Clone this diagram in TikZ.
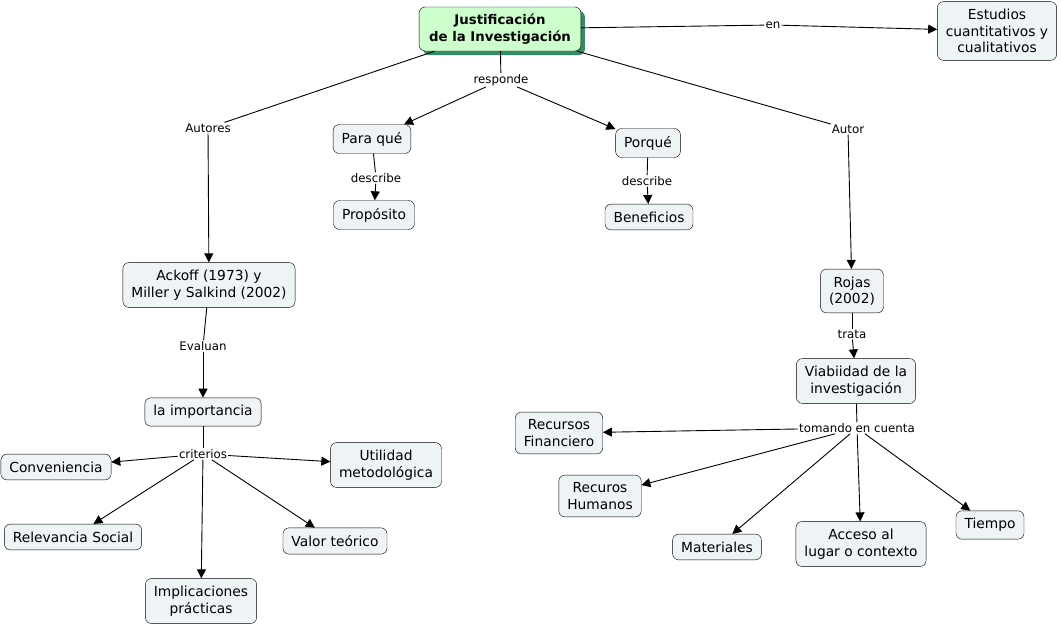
\documentclass[tikz,border=0pt]{standalone}
\usepackage{fontspec}
\setmainfont{DejaVu Sans}
\usetikzlibrary{arrows.meta,shadows}

\definecolor{cmapfill}{RGB}{238,243,245}
\definecolor{rootfill}{RGB}{204,255,204}
\definecolor{rootshadow}{RGB}{51,140,102}

\tikzset{
  concept/.style={draw, rounded corners=6pt, fill=cmapfill, align=center,
    inner xsep=8.5pt, inner ysep=7.5pt, font=\fontsize{13.8}{16.5}\selectfont},
  root/.style={concept, fill=rootfill, font=\bfseries\fontsize{13.3}{16.5}\selectfont,
    inner xsep=10pt, inner ysep=7pt,
    drop shadow={shadow xshift=4pt, shadow yshift=-4pt, fill=rootshadow, opacity=1}},
  linkword/.style={fill=white, inner sep=1pt, font=\fontsize{11.8}{14}\selectfont},
  link/.style={line width=0.9pt},
  arr/.style={link, -{Triangle[length=9pt,width=9pt]}}
}

\begin{document}
\begin{tikzpicture}[x=1pt,y=-1pt]

	%The frame
	\useasboundingbox (0,0) rectangle (1061,627);

	%Concepts
	\node[root] (just) at (500,29) {Justificación\\de la Investigación};
	\node[concept] (estud) at (997,31) {Estudios\\cuantitativos y\\cualitativos};
	\node[concept] (paraque) at (372,139) {Para qué};
	\node[concept] (porque) at (648,143) {Porqué};
	\node[concept] (proposito) at (374,215) {Propósito};
	\node[concept] (benef) at (649,217) {Beneficios};
	\node[concept] (ackoff) at (209,285) {Ackoff (1973) y\\Miller y Salkind (2002)};
	\node[concept] (import) at (203,412) {la importancia};
	\node[concept] (conven) at (56,467) {Conveniencia};
	\node[concept] (utilidad) at (386,465) {Utilidad\\metodológica};
	\node[concept] (relev) at (73,537) {Relevancia Social};
	\node[concept] (valor) at (335,541) {Valor teórico};
	\node[concept] (implic) at (201,601) {Implicaciones\\prácticas};
	\node[concept] (rojas) at (852,291) {Rojas\\(2002)};
	\node[concept] (viab) at (856,381) {Viabiidad de la\\investigación};
	\node[concept] (finan) at (559,433) {Recursos\\Financiero};
	\node[concept] (human) at (600,496) {Recuros\\Humanos};
	\node[concept] (mater) at (717,547) {Materiales};
	\node[concept] (acceso) at (861,544) {Acceso al\\lugar o contexto};
	\node[concept] (tiempo) at (990,525) {Tiempo};

	%Linking words
	\node[linkword] (en) at (773,25) {en};
	\node[linkword] (responde) at (501,80) {responde};
	\node[linkword] (desc1) at (376,178) {describe};
	\node[linkword] (desc2) at (647,181) {describe};
	\node[linkword] (autores) at (208,128) {Autores};
	\node[linkword] (autor) at (848,129) {Autor};
	\node[linkword] (evaluan) at (203,346) {Evaluan};
	\node[linkword] (criterios) at (203,454) {criterios};
	\node[linkword] (trata) at (852,334) {trata};
	\node[linkword] (tomando) at (857,428) {tomando en cuenta};

	%Top
	\draw[link] (just) -- (en);
	\draw[arr] (en) -- (estud);
	\draw[link] (just) -- (responde);
	\draw[arr] (responde) -- (paraque);
	\draw[arr] (responde) -- (porque);
	\draw[link] (paraque) -- (desc1);
	\draw[arr] (desc1) -- (proposito);
	\draw[link] (porque) -- (desc2);
	\draw[arr] (desc2) -- (benef);

	%Left branch
	\draw[link] (just) -- (autores);
	\draw[arr] (autores) -- (ackoff);
	\draw[link] (ackoff) -- (evaluan);
	\draw[arr] (evaluan) -- (import);
	\draw[link] (import) -- (criterios);
	\draw[arr] (criterios) -- (conven);
	\draw[arr] (criterios) -- (utilidad);
	\draw[arr] (criterios) -- (relev);
	\draw[arr] (criterios) -- (valor);
	\draw[arr] (criterios) -- (implic);

	%Right branch
	\draw[link] (just) -- (autor);
	\draw[arr] (autor) -- (rojas);
	\draw[link] (rojas) -- (trata);
	\draw[arr] (trata) -- (viab);
	\draw[link] (viab) -- (tomando);
	\draw[arr] (tomando) -- (finan);
	\draw[arr] (tomando) -- (human);
	\draw[arr] (tomando) -- (mater);
	\draw[arr] (tomando) -- (acceso);
	\draw[arr] (tomando) -- (tiempo);

\end{tikzpicture}
\end{document}
